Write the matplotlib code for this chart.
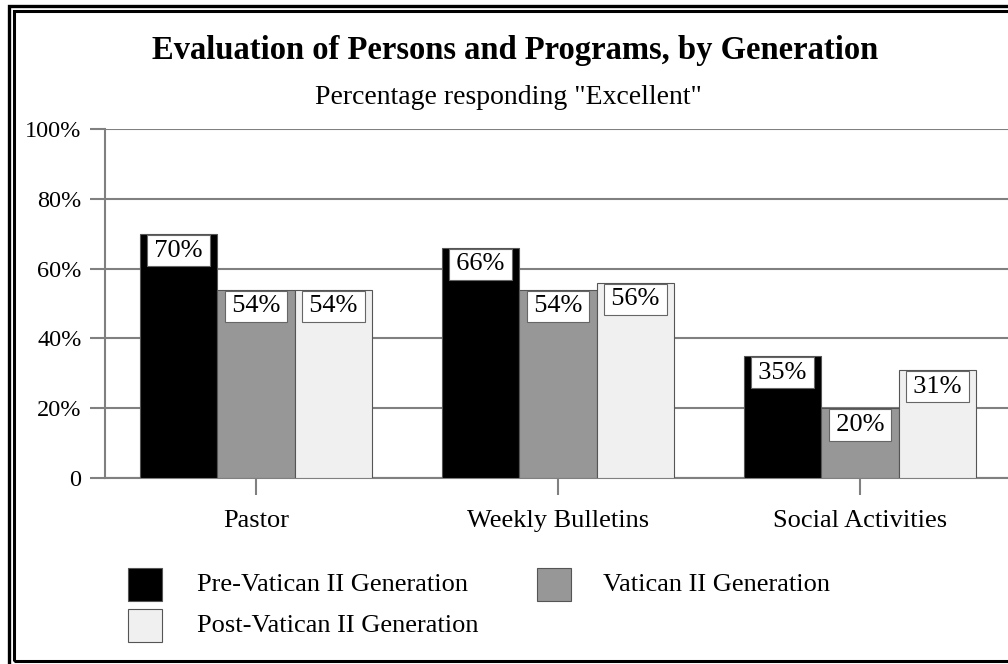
import matplotlib
matplotlib.use("Agg")
import matplotlib.pyplot as plt
from matplotlib.patches import Rectangle
import numpy as np

plt.rcParams['font.family'] = ['Liberation Serif', 'DejaVu Serif']

categories = ["Pastor", "Weekly Bulletins", "Social Activities"]
series_names = ["Pre-Vatican II Generation", "Vatican II Generation", "Post-Vatican II Generation"]
pre_vatican = [70, 66, 35]
vatican = [54, 54, 20]
post_vatican = [54, 56, 31]
yticks = [0, 20, 40, 60, 80, 100]
ytick_labels = ["0", "20%", "40%", "60%", "80%", "100%"]
title = "Evaluation of Persons and Programs, by Generation"
subtitle = 'Percentage responding "Excellent"'

colors = ["#000000", "#979797", "#f0f0f0"]
W, H = 1008, 664
fig = plt.figure(figsize=(W / 100, H / 100), dpi=100)

def fx(px):
    return px / W

def fy(py):
    return 1 - py / H

# frame
fig.patches.append(Rectangle((fx(8.5), fy(700)), fx(1100), fy(5.5) - fy(700), transform=fig.transFigure,
                             fill=False, edgecolor='black', linewidth=2.4, clip_on=False))
fig.patches.append(Rectangle((fx(13.5), fy(660.5)), fx(1100), fy(11) - fy(660.5), transform=fig.transFigure,
                             fill=False, edgecolor='black', linewidth=2.2, clip_on=False))

ax = fig.add_axes([fx(105), fy(478), fx(1011) - fx(105), fy(129) - fy(478)])
x = np.arange(len(categories))
w = 0.2566
series = [pre_vatican, vatican, post_vatican]
for i, (vals, c) in enumerate(zip(series, colors)):
    xs = x + (i - 1) * w
    ax.bar(xs, vals, width=w, color=c, edgecolor='#555555', linewidth=0.8, zorder=3)
    for xi, v in zip(xs, vals):
        ax.annotate(f"\u200a{v}%\u200a", xy=(xi, v), xytext=(0, -4.2), textcoords='offset points',
                    ha='center', va='top', fontsize=19, zorder=5,
                    bbox=dict(boxstyle='square,pad=0.18', facecolor='white', edgecolor='#666666', linewidth=0.8))

ax.set_xlim(-0.5, 2.5)
ax.set_ylim(0, 100)
ax.set_yticks(yticks)
ax.set_yticklabels(ytick_labels, fontsize=17.5)
ax.set_xticks(x)
ax.set_xticklabels(categories, fontsize=19)
ax.yaxis.grid(True, color='#808080', linewidth=1.5, zorder=0)
ax.set_axisbelow(True)
for s in ['top', 'right']:
    ax.spines[s].set_visible(False)
for s in ['left', 'bottom']:
    ax.spines[s].set_color('#808080')
    ax.spines[s].set_linewidth(1.5)
ax.tick_params(axis='y', length=11, width=1.5, color='#808080', pad=6)
ax.tick_params(axis='x', length=12, width=1.5, color='#808080', pad=11)

fig.text(fx(515), fy(50), title, ha='center', va='center', fontsize=23.5, fontweight='bold')
fig.text(fx(508), fy(98), subtitle, ha='center', va='center', fontsize=20)

# legend
leg = [(128, 568, 0, 197, 585), (537, 568, 1, 603, 585), (128, 609, 2, 197, 626)]
for sx, sy, idx, tx, ty in leg:
    fig.patches.append(Rectangle((fx(sx), fy(sy + 33)), fx(34), fy(sy) - fy(sy + 33), transform=fig.transFigure,
                                 facecolor=colors[idx], edgecolor='#555555', linewidth=0.8))
    fig.text(fx(tx), fy(ty), series_names[idx], ha='left', va='center', fontsize=19)

fig.savefig("out.png", dpi=100)
